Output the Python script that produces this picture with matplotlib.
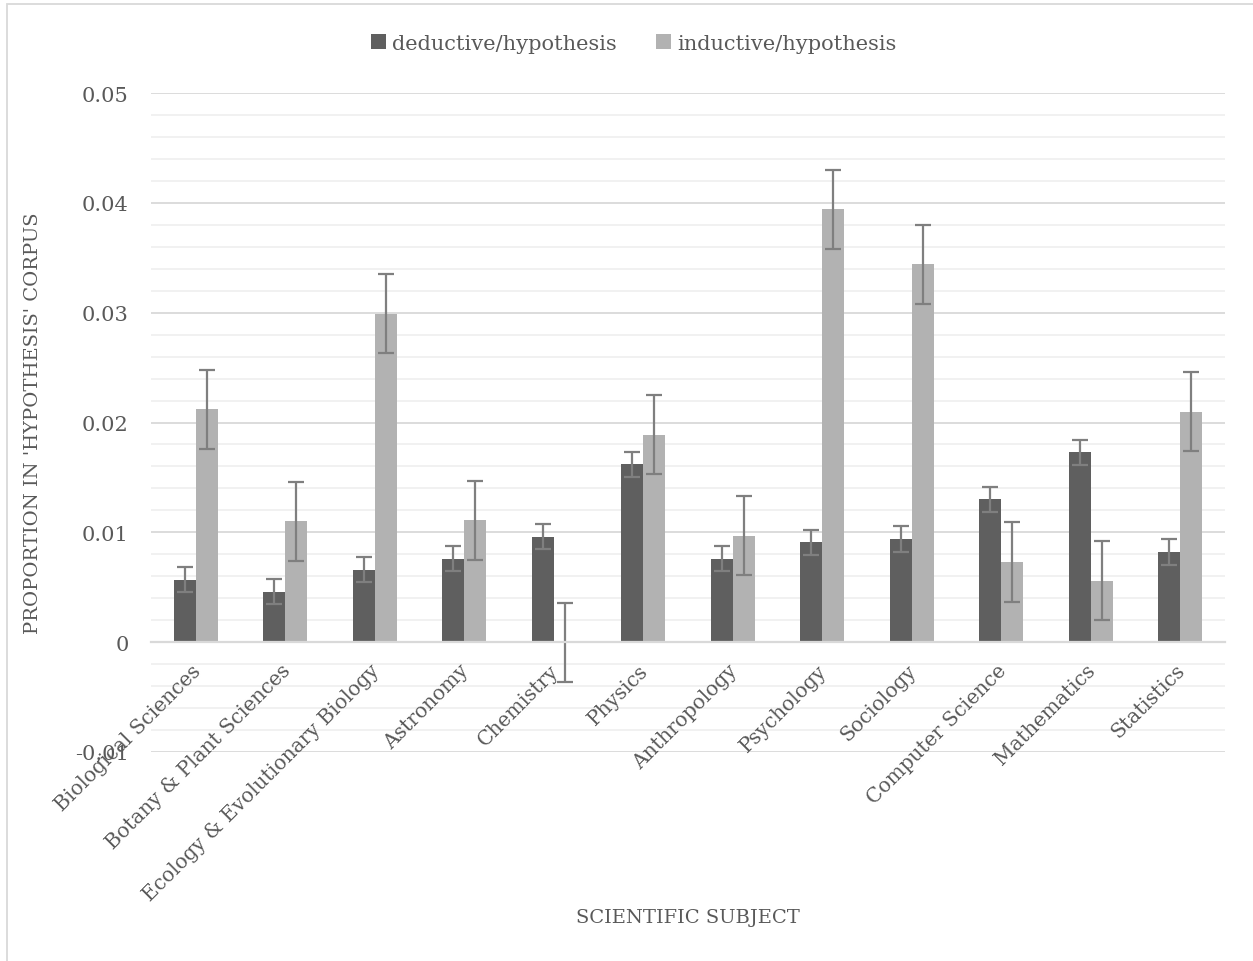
import matplotlib.pyplot as plt
import matplotlib.transforms as mtransforms
from matplotlib.patches import Rectangle
import numpy as np

plt.rcParams['font.family'] = ['DejaVu Serif']

subjects = ['Biological Sciences', 'Botany & Plant Sciences', 'Ecology & Evolutionary Biology',
            'Astronomy', 'Chemistry', 'Physics', 'Anthropology', 'Psychology', 'Sociology',
            'Computer Science', 'Mathematics', 'Statistics']
deductive = [0.0057, 0.0046, 0.0066, 0.0076, 0.0096, 0.0162, 0.0076, 0.0091, 0.0094,
             0.0130, 0.0173, 0.0082]
deductive_err = [0.00115, 0.00115, 0.00115, 0.00115, 0.00115, 0.00115, 0.00115, 0.00115,
                 0.00115, 0.00115, 0.00115, 0.00115]
inductive = [0.0212, 0.0110, 0.0299, 0.0111, 0.0, 0.0189, 0.0097, 0.0394, 0.0344,
             0.0073, 0.0056, 0.0210]
inductive_err = [0.0036, 0.0036, 0.0036, 0.0036, 0.0036, 0.0036, 0.0036, 0.0036,
                 0.0036, 0.0036, 0.0036, 0.0036]
series_names = ['deductive/hypothesis', 'inductive/hypothesis']

dark = '#5f5f5f'
light = '#b2b2b2'
err_color = '#7f7f7f'
text_color = '#595959'

fig = plt.figure(figsize=(12.53, 9.62), dpi=100)
ax = fig.add_axes([151 / 1253, 1 - 753 / 962, (1225 - 151) / 1253, (753 - 94) / 962])

x = np.arange(len(subjects))
w = 0.245
ekw = dict(ecolor=err_color, elinewidth=1.6, capsize=5.5, capthick=1.6)
ax.bar(x - w / 2, deductive, w, color=dark, label=series_names[0], zorder=3,
       yerr=deductive_err, error_kw=ekw)
ax.bar(x + w / 2, inductive, w, color=light, label=series_names[1], zorder=3,
       yerr=inductive_err, error_kw=ekw)

ax.set_xlim(-0.5, len(subjects) - 0.5)
ax.set_ylim(-0.01, 0.05)
ax.set_yticks(np.arange(-0.01, 0.0501, 0.01))
ax.set_yticklabels(['-0.01', '0', '0.01', '0.02', '0.03', '0.04', '0.05'])
ax.set_yticks(np.arange(-0.01, 0.0501, 0.002), minor=True)
ax.grid(axis='y', which='major', color='#d9d9d9', linewidth=1.3, zorder=0)
ax.grid(axis='y', which='minor', color='#f0f0f0', linewidth=1.3, zorder=0)
ax.tick_params(axis='y', which='both', length=0, pad=16, labelsize=15, labelcolor=text_color)

# category axis crosses at zero, labels hang from it (drawn above the gridlines)
for s in ['top', 'right', 'left']:
    ax.spines[s].set_visible(False)
ax.spines['bottom'].set_position(('data', 0))
ax.spines['bottom'].set_color('#d9d9d9')
ax.spines['bottom'].set_linewidth(1.6)
ax.spines['bottom'].set_zorder(4)
ax.xaxis.set_zorder(5)
ax.set_xticks(x)
ax.set_xticklabels(subjects, rotation=45, ha='right', va='center',
                   rotation_mode='anchor', fontsize=14.5, color=text_color)
ax.tick_params(axis='x', length=0, pad=0)
offset = mtransforms.ScaledTranslation(2 / 100, -25 / 100, fig.dpi_scale_trans)
for lbl in ax.get_xticklabels():
    lbl.set_transform(lbl.get_transform() + offset)

fig.text(33 / 1253, 1 - 423 / 962, "PROPORTION IN 'HYPOTHESIS' CORPUS", rotation=90,
         ha='center', va='center', fontsize=14, color=text_color)
fig.text(688 / 1253, 1 - 918 / 962, 'SCIENTIFIC SUBJECT', ha='center', va='center',
         fontsize=14, color=text_color)

leg = fig.legend(loc='center', bbox_to_anchor=(634 / 1253, 1 - 44 / 962), ncol=2,
                 frameon=False, fontsize=15, handlelength=0.7, handleheight=0.7,
                 handletextpad=0.3, columnspacing=1.9, labelcolor=text_color)

fig.patches.append(Rectangle((7 / 1253, -0.01), 1.02, 1 - 5 / 962 + 0.01,
                             transform=fig.transFigure, fill=False,
                             edgecolor='#d9d9d9', linewidth=1.3))

fig.savefig('out.png', dpi=100)
